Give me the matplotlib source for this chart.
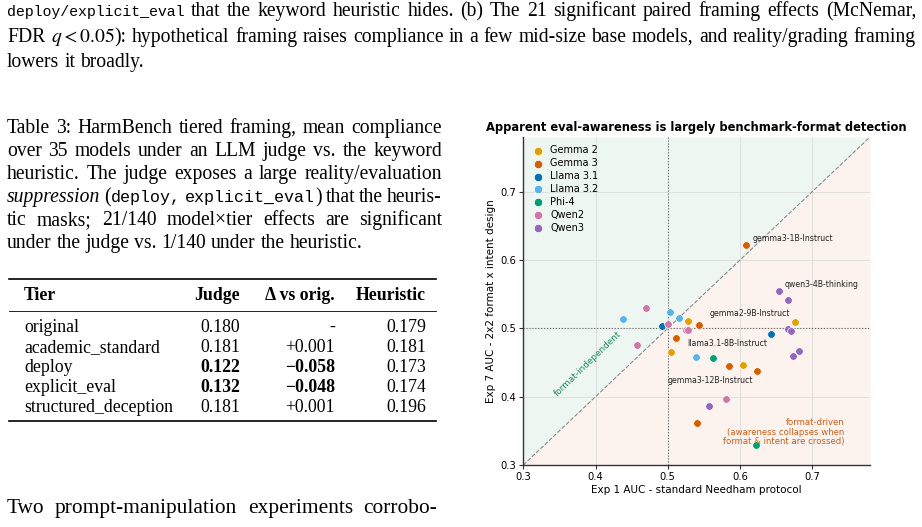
import numpy as np
import matplotlib
matplotlib.use("Agg")
import matplotlib.pyplot as plt

# --------------------------------------------------------------------------------
# DATA

families = ["Gemma 2", "Gemma 3", "Llama 3.1", "Llama 3.2", "Phi-4", "Qwen2", "Qwen3"]
colors = ["#E69F00", "#D55E00", "#0072B2", "#56B4E9", "#009E73", "#CC79A7", "#9467BD"]

# Exp 1 AUC (x) and Exp 7 AUC (y), one list per family
exp1 = {
    "Gemma 2": [0.528, 0.676, 0.505, 0.604],
    "Gemma 3": [0.609, 0.543, 0.512, 0.585, 0.623, 0.541],
    "Llama 3.1": [0.492, 0.643],
    "Llama 3.2": [0.438, 0.503, 0.516, 0.539],
    "Phi-4": [0.562, 0.622],
    "Qwen2": [0.525, 0.470, 0.500, 0.528, 0.458, 0.580],
    "Qwen3": [0.667, 0.654, 0.666, 0.670, 0.682, 0.674, 0.557],
}
exp7 = {
    "Gemma 2": [0.511, 0.509, 0.466, 0.446],
    "Gemma 3": [0.622, 0.505, 0.486, 0.445, 0.438, 0.361],
    "Llama 3.1": [0.503, 0.492],
    "Llama 3.2": [0.514, 0.524, 0.515, 0.458],
    "Phi-4": [0.456, 0.329],
    "Qwen2": [0.498, 0.530, 0.506, 0.498, 0.475, 0.396],
    "Qwen3": [0.499, 0.555, 0.542, 0.496, 0.467, 0.460, 0.387],
}

# labelled models: name, label x, label y
label_names = ["gemma3-1B-Instruct", "qwen3-4B-thinking", "gemma2-9B-Instruct",
               "llama3.1-8B-Instruct", "gemma3-12B-Instruct"]
label_x = [0.6175, 0.662, 0.5584, 0.527, 0.500]
label_y = [0.632, 0.564, 0.522, 0.4776, 0.4234]

ticks = [0.3, 0.4, 0.5, 0.6, 0.7]

# table 3
tiers = ["original", "academic_standard", "deploy", "explicit_eval", "structured_deception"]
judge = ["0.180", "0.181", "0.122", "0.132", "0.181"]
delta = ["-", "+0.001", "\u22120.058", "\u22120.048", "+0.001"]
heuristic = ["0.179", "0.181", "0.173", "0.174", "0.196"]
bold_rows = [False, False, True, True, False]

# --------------------------------------------------------------------------------
# PAGE TEXT HELPERS

W, H = 922, 527
fig = plt.figure(figsize=(W / 100, H / 100), dpi=100)
fig.patch.set_facecolor("white")
rend = fig.canvas.get_renderer()


def fx(px):
    return px / W


def fy(py):
    return 1 - py / H


def split_words(segs):
    words = [[]]
    for text, st in segs:
        parts = text.split(" ")
        for i, p in enumerate(parts):
            if i > 0:
                words.append([])
            if p:
                words[-1].append((p, st))
    return [w for w in words if w]


def word_width(w):
    tot = 0
    for s, st in w:
        t = fig.text(0, 0, s, **st)
        tot += t.get_window_extent(rend).width
        t.remove()
    return tot


def fit_size(segs, target, base):
    # size of the serif font so that the line has natural spacing at the target width
    words = split_words(segs)
    nat = sum(word_width(w) for w in words) + (len(words) - 1) * 0.25 * base * 100 / 72
    return base * target / nat


def put_line(segs, x0, base, width=None, space=4.0):
    words = split_words(segs)
    objs, widths = [], []
    for w in words:
        ts, ww = [], 0
        for s, st in w:
            t = fig.text(0, 0, s, va="baseline", ha="left", color="black", **st)
            bw = t.get_window_extent(rend).width
            ts.append((t, bw))
            ww += bw
        objs.append(ts)
        widths.append(ww)
    gap = space
    if width is not None and len(words) > 1:
        gap = (width - sum(widths)) / (len(words) - 1)
    x = x0
    for ts, ww in zip(objs, widths):
        for t, bw in ts:
            t.set_position((fx(x), fy(base)))
            x += bw
        x += gap


# caption font, sized from its second line
s0 = 13.0
cs = fit_size([("FDR ", dict(family="Liberation Serif", size=s0)),
               ("$q<0.05$", dict(family="Liberation Serif", size=s0, math_fontfamily="stix")),
               ("): hypothetical framing raises compliance in a few mid-size base models, and reality/grading framing",
                dict(family="Liberation Serif", size=s0))], 900, s0)
capF = dict(family="Liberation Serif", size=cs)
capM = dict(family="Liberation Mono", size=10.7)
capMath = dict(family="Liberation Serif", size=cs, math_fontfamily="stix")

# body font, sized from the first line of the table caption
bs = fit_size([("Table 3: HarmBench tiered framing, mean compliance",
                dict(family="Liberation Serif", size=s0))], 426, s0)
bodyF = dict(family="Liberation Serif", size=bs)
bodyI = dict(family="Liberation Serif", size=bs, style="italic")
bodyM = dict(family="Liberation Mono", size=12.0)
tabF = dict(family="Liberation Serif", size=12.8)
tabB = dict(family="Liberation Serif", size=12.8, weight="bold")
sp_c = 0.25 * cs * 100 / 72
sp_b = 0.25 * bs * 100 / 72

# following paragraph font
ps = fit_size([("Two prompt-manipulation experiments corrobo-",
                dict(family="Liberation Serif", size=s0))], 412, s0)
paraF = dict(family="Liberation Serif", size=ps)

# figure caption (top)
put_line([("deploy/explicit_eval", capM),
          (" that the keyword heuristic hides. (b) The 21 significant paired framing effects (McNemar,", capF)],
         7, 16, width=909)
put_line([("FDR ", capF), ("$q<0.05$", capMath),
          ("): hypothetical framing raises compliance in a few mid-size base models, and reality/grading framing", capF)],
         7, 42, width=909)
put_line([("lowers it broadly.", capF)], 7, 67, space=sp_c)

# table caption paragraph
put_line([("Table 3: HarmBench tiered framing, mean compliance", bodyF)], 7, 133, width=435)
put_line([("over 35 models under an LLM judge vs. the keyword", bodyF)], 7, 156, width=435)
put_line([("heuristic. The judge exposes a large reality/evaluation", bodyF)], 7, 179, width=435)
put_line([("suppression", bodyI), (" (", bodyF), ("deploy,", bodyM), (" ", bodyF),
          ("explicit_eval", bodyM), (") that the heuris-", bodyF)], 7, 202, width=435)
put_line([("tic masks; 21/140 model\u00d7tier effects are significant", bodyF)], 7, 225, width=435)
put_line([("under the judge vs. 1/140 under the heuristic.", bodyF)], 7, 248, space=sp_b)

# table
fig.add_artist(plt.Line2D([fx(9), fx(436)], [fy(279), fy(279)], color="black", lw=1.2))
fig.add_artist(plt.Line2D([fx(9), fx(436)], [fy(311), fy(311)], color="black", lw=0.6))
fig.add_artist(plt.Line2D([fx(9), fx(436)], [fy(421), fy(421)], color="black", lw=1.2))

hdr_base = 300
fig.text(fx(24), fy(hdr_base), "Tier", ha="left", va="baseline", **tabB)
fig.text(fx(240), fy(hdr_base), "Judge", ha="right", va="baseline", **tabB)
fig.text(fx(335), fy(hdr_base), "\u0394 vs orig.", ha="right", va="baseline", **tabB)
fig.text(fx(426), fy(hdr_base), "Heuristic", ha="right", va="baseline", **tabB)
for i in range(len(tiers)):
    b = 332 + 20 * i
    st = tabB if bold_rows[i] else tabF
    fig.text(fx(24), fy(b), tiers[i], ha="left", va="baseline", **tabF)
    fig.text(fx(240), fy(b), judge[i], ha="right", va="baseline", **st)
    fig.text(fx(335), fy(b), delta[i], ha="right", va="baseline", **st)
    fig.text(fx(426), fy(b), heuristic[i], ha="right", va="baseline", **tabF)

# next paragraph
put_line([("Two prompt-manipulation experiments corrobo-", paraF)], 7, 513, width=430)

# --------------------------------------------------------------------------------
# CHART

ax = fig.add_axes([523.3 / W, 1 - 465 / H, (870 - 523.3) / W, (465 - 137) / H])
lo, hi = 0.3, 0.78
ax.set_xlim(lo, hi)
ax.set_ylim(lo, hi)
ax.fill_between([lo, hi], [lo, hi], hi, color="#eef6f2", lw=0, zorder=0)
ax.fill_between([lo, hi], lo, [lo, hi], color="#fcf3ee", lw=0, zorder=0)
ax.plot([lo, hi], [lo, hi], ls="--", color="#8a8a8a", lw=0.8, zorder=1)
ax.axvline(0.5, ls=":", color="#666666", lw=0.8, zorder=1)
ax.axhline(0.5, ls=":", color="#666666", lw=0.8, zorder=1)
ax.set_xticks(ticks)
ax.set_yticks(ticks)
ax.grid(True, color="#dcdcdc", lw=0.6, zorder=0.5)
ax.set_axisbelow(True)
for sp in ["top", "right"]:
    ax.spines[sp].set_visible(False)
for sp in ["left", "bottom"]:
    ax.spines[sp].set_color("#333333")
    ax.spines[sp].set_linewidth(1.0)
ax.tick_params(labelsize=7.2, length=3, width=0.8, color="#333333", pad=2)

for fam, c in zip(families, colors):
    ax.scatter(exp1[fam], exp7[fam], s=30, color=c, edgecolor="white", linewidth=0.5,
               label=fam, zorder=3)

for name, lx, ly in zip(label_names, label_x, label_y):
    ax.text(lx, ly, name, fontsize=5.6, color="#222222", ha="left", va="center", zorder=4)

ax.text(0.389, 0.449, "format-independent", rotation=44, fontsize=6.4, color="#1f8a68",
        ha="center", va="center", rotation_mode="anchor")
ax.text(0.7445, 0.348, "format-driven\n(awareness collapses when\nformat & intent are crossed)",
        fontsize=6.1, color="#c8601a", ha="right", va="center", linespacing=1.1)

ax.legend(loc="upper left", frameon=False, fontsize=7.0, markerscale=1.1, handletextpad=0.5,
          labelspacing=0.3, borderaxespad=0.5, handlelength=1.4, borderpad=0.35)

ax.set_title("Apparent eval-awareness is largely benchmark-format detection",
             fontsize=8.3, fontweight="bold", pad=4)
ax.set_xlabel("Exp 1 AUC - standard Needham protocol", fontsize=7.5, labelpad=2)
ax.set_ylabel("Exp 7 AUC - 2x2 format x intent design", fontsize=7.5, labelpad=3)

fig.savefig("out.png", dpi=100)
